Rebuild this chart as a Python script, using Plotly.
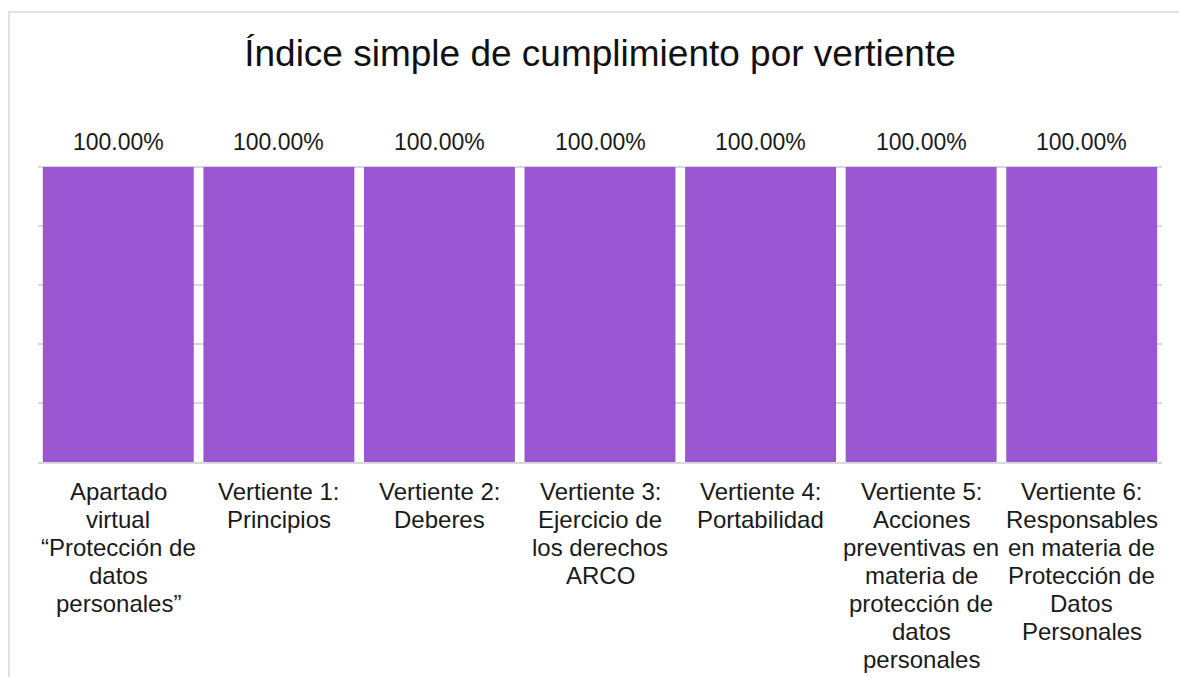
import plotly.graph_objects as go

categories = [
    "Apartado<br>virtual<br>“Protección de<br>datos<br>personales”",
    "Vertiente 1:<br>Principios",
    "Vertiente 2:<br>Deberes",
    "Vertiente 3:<br>Ejercicio de<br>los derechos<br>ARCO",
    "Vertiente 4:<br>Portabilidad",
    "Vertiente 5:<br>Acciones<br>preventivas en<br>materia de<br>protección de<br>datos<br>personales",
    "Vertiente 6:<br>Responsables<br>en materia de<br>Protección de<br>Datos<br>Personales",
]
values = [1.0, 1.0, 1.0, 1.0, 1.0, 1.0, 1.0]
title_text = "Índice simple de cumplimiento por vertiente"

W, H = 1179, 677
L, R, T, B = 38, 17, 108, 215
pw, ph = W - L - R, H - T - B

def px_x(x):
    return (x - L) / pw

def px_y(y):
    return (H - B - y) / ph

FONT = "Liberation Sans, Arial, sans-serif"

fig = go.Figure(
    go.Bar(
        x=categories,
        y=values,
        marker=dict(color="#9B57D3", line=dict(width=0)),
        cliponaxis=False,
        hoverinfo="y",
    )
)

# value labels above bars
for c, v in zip(categories, values):
    fig.add_annotation(
        x=c, y=v, xref="x", yref="y",
        text=f"{v*100:.2f}%",
        showarrow=False,
        yanchor="bottom",
        yshift=10,
        font=dict(size=23, color="#1a1a1a", family=FONT),
    )

# category labels (line spacing as in reference)
LINE_GAP = 28
FIRST_OFF = 29
for c in categories:
    for i, line in enumerate(c.split("<br>")):
        fig.add_annotation(
            x=c, y=0, xref="x", yref="paper",
            text=line,
            showarrow=False,
            xanchor="center",
            yanchor="middle",
            yshift=-(FIRST_OFF + i * LINE_GAP),
            font=dict(size=24, color="#1a1a1a", family=FONT),
        )

fig.update_layout(
    width=W,
    height=H,
    margin=dict(l=L, r=R, t=T, b=B, autoexpand=False),
    paper_bgcolor="white",
    plot_bgcolor="white",
    bargap=0.06,
    showlegend=False,
    font=dict(family=FONT, color="#1a1a1a"),
    title=dict(
        text=title_text,
        font=dict(size=37, color="#111111", family=FONT),
        x=0.5,
        xref="paper",
        xanchor="center",
        y=1 - 53 / H,
        yref="container",
        yanchor="middle",
    ),
    xaxis=dict(
        automargin=False,
        showgrid=False,
        showline=True,
        linecolor="#d9d9d9",
        linewidth=1.5,
        ticks="",
        showticklabels=False,
    ),
    yaxis=dict(
        automargin=False,
        range=[0, 1.2005],
        dtick=0.2,
        showticklabels=False,
        showgrid=True,
        gridcolor="#d9d9d9",
        gridwidth=1.5,
        zeroline=False,
        showline=False,
        ticks="",
    ),
    shapes=[
        dict(
            type="rect",
            xref="paper",
            yref="paper",
            x0=px_x(9),
            x1=px_x(1190),
            y0=px_y(12),
            y1=px_y(700),
            line=dict(color="#d9d9d9", width=1.5),
            fillcolor="rgba(0,0,0,0)",
            layer="below",
        )
    ],
)

fig.write_html("out.html", config={"displayModeBar": False})

with open("out.html", "r", encoding="utf-8") as f:
    html = f.read()
html = html.replace("<head>", "<head><style>html,body{margin:0;padding:0;overflow:hidden;}</style>", 1)
with open("out.html", "w", encoding="utf-8") as f:
    f.write(html)
